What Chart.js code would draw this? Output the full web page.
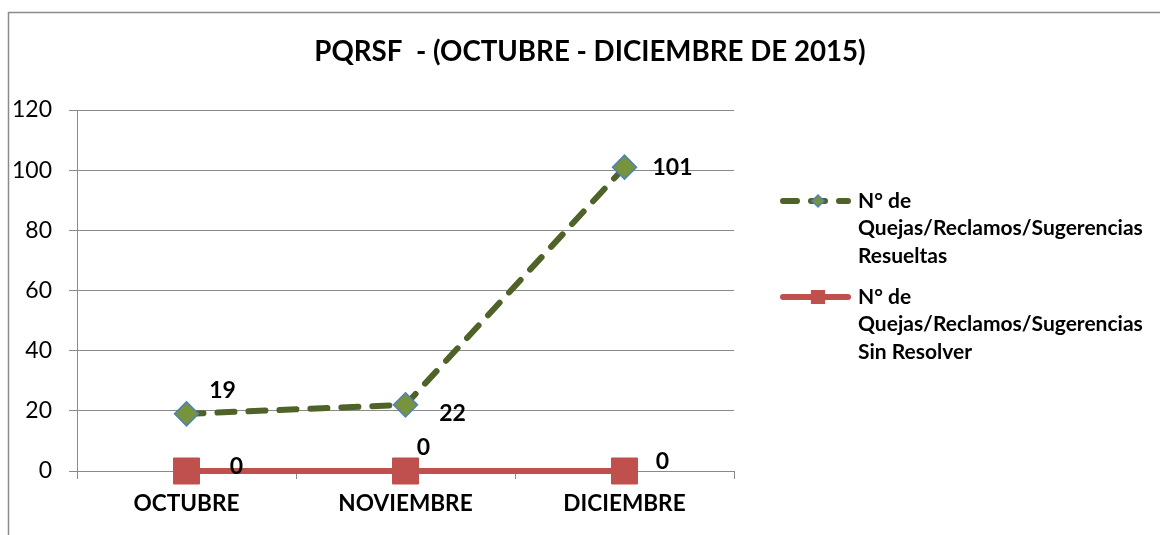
<!DOCTYPE html>
<html lang="es">
<head>
    <meta charset="UTF-8">
    <title>PQRSF - Octubre a Diciembre 2015</title>
    <script src="https://cdn.jsdelivr.net/npm/chart.js@4"></script>
    <style>
        html, body { margin: 0; padding: 0; background: #fff; }
        canvas { display: block; }
    </style>
</head>
<body>
    <canvas id="pqrsfChart" width="1160" height="535"></canvas>
    <script>
        // datos del grafico
        const meses = ['OCTUBRE', 'NOVIEMBRE', 'DICIEMBRE'];
        const resueltas = [19, 22, 101];
        const sinResolver = [0, 0, 0];
        const nombresSeries = [
            ['N° de', 'Quejas/Reclamos/Sugerencias', 'Resueltas'],
            ['N° de', 'Quejas/Reclamos/Sugerencias', 'Sin Resolver']
        ];
        const titulo = 'PQRSF  - (OCTUBRE - DICIEMBRE DE 2015)';

        // desplazamiento de las etiquetas respecto a cada punto (solo estilo)
        const offsetsEtiquetas = [
            [[36, -23], [47, 9], [48, 0]],
            [[50, -4], [18, -23], [38, -9]]
        ];

        const verde = '#4F6228';
        const verdeClaro = '#77933C';
        const azul = '#4F81BD';
        const rojo = '#C0504D';
        const gris = '#8A8A8A';

        Chart.defaults.font.family = 'Lato, "Open Sans", sans-serif';
        Chart.defaults.color = '#000';

        const extras = {
            id: 'extras',
            beforeDraw(chart) {
                const ctx = chart.ctx;
                ctx.save();
                ctx.strokeStyle = gris;
                ctx.lineWidth = 1.5;
                ctx.beginPath();
                ctx.moveTo(8.5, chart.height);
                ctx.lineTo(8.5, 12.5);
                ctx.lineTo(chart.width, 12.5);
                ctx.stroke();
                ctx.restore();
            },
            afterDatasetsDraw(chart) {
                const ctx = chart.ctx;
                ctx.save();
                ctx.font = 'bold 23px Lato';
                ctx.fillStyle = '#000';
                ctx.textAlign = 'center';
                ctx.textBaseline = 'middle';
                chart.data.datasets.forEach((ds, i) => {
                    const meta = chart.getDatasetMeta(i);
                    meta.data.forEach((pt, j) => {
                        const off = offsetsEtiquetas[i][j];
                        ctx.fillText(String(ds.data[j]), pt.x + off[0], pt.y + off[1]);
                    });
                });
                ctx.restore();
            },
            afterDraw(chart) {
                const ctx = chart.ctx;
                ctx.save();
                // titulo
                ctx.font = 'bold 27.7px Lato';
                ctx.fillStyle = '#000';
                ctx.textAlign = 'center';
                ctx.textBaseline = 'middle';
                ctx.fillText(titulo, 590, 52);

                // leyenda
                ctx.font = 'bold 21px Lato';
                ctx.textAlign = 'left';
                const filas = [201, 297];
                chart.data.datasets.forEach((ds, i) => {
                    const y = filas[i];
                    ctx.save();
                    ctx.strokeStyle = ds.borderColor;
                    ctx.lineWidth = 6;
                    ctx.lineCap = 'round';
                    ctx.setLineDash(i === 0 ? [14, 14] : []);
                    ctx.beginPath();
                    ctx.moveTo(783, y);
                    ctx.lineTo(848, y);
                    ctx.stroke();
                    ctx.restore();
                    ctx.save();
                    ctx.fillStyle = ds.pointBackgroundColor;
                    ctx.strokeStyle = ds.pointBorderColor;
                    ctx.lineWidth = 1.5;
                    Chart.helpers.drawPoint(ctx, {
                        pointStyle: ds.pointStyle,
                        radius: i === 0 ? 6 : 9,
                        rotation: 0,
                        borderWidth: 1.5
                    }, 818, y);
                    ctx.restore();
                    nombresSeries[i].forEach((linea, k) => {
                        ctx.fillText(linea, 858, y + k * 27.5);
                    });
                });
                ctx.restore();
            }
        };

        new Chart(document.getElementById('pqrsfChart'), {
            type: 'line',
            data: {
                labels: meses,
                datasets: [
                    {
                        label: nombresSeries[0].join(' '),
                        data: resueltas,
                        borderColor: verde,
                        borderWidth: 6,
                        borderDash: [17, 14],
                        borderCapStyle: 'round',
                        pointStyle: 'rectRot',
                        pointRadius: 12,
                        pointBackgroundColor: verdeClaro,
                        pointBorderColor: azul,
                        pointBorderWidth: 1.5,
                        tension: 0
                    },
                    {
                        label: nombresSeries[1].join(' '),
                        data: sinResolver,
                        borderColor: rojo,
                        borderWidth: 6,
                        pointStyle: 'rect',
                        pointRadius: 18.4,
                        pointBackgroundColor: rojo,
                        pointBorderColor: rojo,
                        pointBorderWidth: 1,
                        tension: 0
                    }
                ]
            },
            options: {
                responsive: false,
                animation: false,
                clip: false,
                layout: {
                    padding: { left: 8, top: 110, right: 426, bottom: 14 }
                },
                scales: {
                    x: {
                        offset: true,
                        afterFit: s => { s.height = 50; },
                        border: { color: gris, width: 1 },
                        grid: {
                            offset: true,
                            drawOnChartArea: false,
                            drawTicks: true,
                            tickLength: 8,
                            color: gris
                        },
                        ticks: {
                            font: { size: 22.6, weight: 'bold' },
                            padding: 11,
                            maxRotation: 0
                        }
                    },
                    y: {
                        min: 0,
                        max: 120,
                        afterFit: s => { s.width = 69; },
                        border: { color: gris, width: 1 },
                        grid: {
                            color: gris,
                            tickLength: 8
                        },
                        ticks: {
                            stepSize: 20,
                            font: { size: 23 },
                            padding: 17
                        }
                    }
                },
                plugins: {
                    legend: { display: false },
                    tooltip: { enabled: false }
                }
            },
            plugins: [extras]
        });
    </script>
</body>
</html>
